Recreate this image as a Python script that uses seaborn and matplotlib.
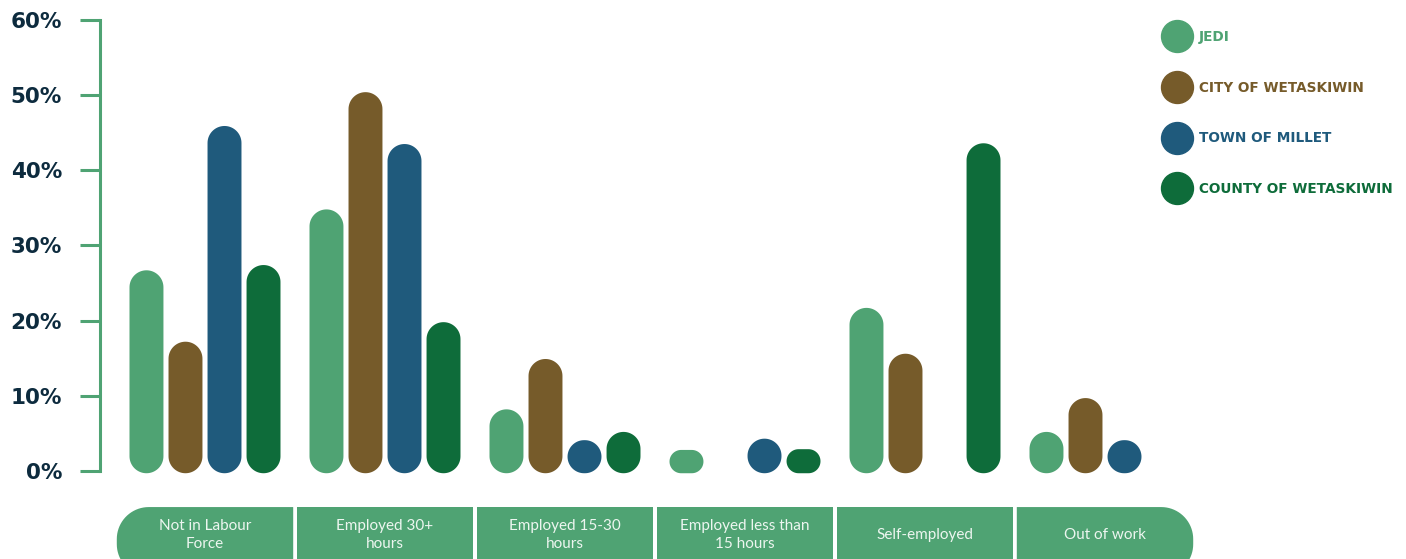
import numpy as np
import pandas as pd
import seaborn as sns
import matplotlib.pyplot as plt
from matplotlib.patches import Polygon
from matplotlib.lines import Line2D

# values (percent)
categories = ["Not in Labour\nForce", "Employed 30+\nhours", "Employed 15-30\nhours",
              "Employed less than\n15 hours", "Self-employed", "Out of work"]
groups = ["JEDI", "CITY OF WETASKIWIN", "TOWN OF MILLET", "COUNTY OF WETASKIWIN"]
jedi = [26.7, 34.8, 8.2, 2.8, 21.7, 5.2]
city = [17.2, 50.4, 14.9, 0, 15.6, 9.7]
millet = [45.9, 43.5, 4.1, 4.3, 0, 4.1]
county = [27.4, 19.8, 5.2, 2.9, 43.6, 0]
yticks = [0, 10, 20, 30, 40, 50, 60]

colors = ["#4fa373", "#765b2a", "#1f5a7c", "#0e6c3a"]
green = "#4fa373"
navy = "#0d2b3e"

rows = []
for g, vals in zip(groups, [jedi, city, millet, county]):
    for c, v in zip(categories, vals):
        rows.append({"category": c, "group": g, "value": v})
df = pd.DataFrame(rows)

sns.set_style("white")
plt.rcParams["font.family"] = ["DejaVu Sans"]

fig = plt.figure(figsize=(14.06, 5.59), dpi=100)
ax = fig.add_axes([100 / 1406, 0, 1110 / 1406, 539 / 559])

sns.barplot(data=df, x="category", y="value", hue="group", hue_order=groups,
            palette=colors, saturation=1, width=0.867, gap=0.13, legend=False, ax=ax)

ax.set_xlim(-0.5833, 5.5833)
ax.set_ylim(-11.71, 60)

# pixels per data unit, used to keep the rounded corners circular
p0 = ax.transData.transform((0, 0))
p1 = ax.transData.transform((1, 1))
px_x = p1[0] - p0[0]
px_y = p1[1] - p0[1]


def rounded_rect(x0, y0, w, h, r_px, corners=(1, 1, 1, 1)):
    # corners: bottom-left, bottom-right, top-right, top-left
    rx, ry = r_px / px_x, r_px / px_y
    x1, y1 = x0 + w, y0 + h
    spec = [((x0 + rx, y0 + ry), 180, 270, (x0, y0)),
            ((x1 - rx, y0 + ry), 270, 360, (x1, y0)),
            ((x1 - rx, y1 - ry), 0, 90, (x1, y1)),
            ((x0 + rx, y1 - ry), 90, 180, (x0, y1))]
    pts = []
    for on, (c, a0, a1, sq) in zip(corners, spec):
        if on:
            t = np.radians(np.linspace(a0, a1, 20))
            pts += list(zip(c[0] + rx * np.cos(t), c[1] + ry * np.sin(t)))
        else:
            pts.append(sq)
    return pts


# replace plain bars with pill-shaped ones
base = -0.3
for p in list(ax.patches):
    x, w, h = p.get_x(), p.get_width(), p.get_height()
    fc = p.get_facecolor()
    p.remove()
    if h <= 0:
        continue
    hh = h - base
    r = min(w * px_x / 2, hh * px_y / 2)
    ax.add_patch(Polygon(rounded_rect(x, base, w, hh, r), closed=True,
                         facecolor=fc, edgecolor="none"))

# category label boxes
box_top, box_bot = -4.8, -14
for i, cat in enumerate(categories):
    left, right = i - 0.49, i + 0.49
    if i == 0:
        corners = (1, 0, 0, 1)
    elif i == len(categories) - 1:
        corners = (0, 1, 1, 0)
    else:
        corners = (0, 0, 0, 0)
    ax.add_patch(Polygon(rounded_rect(left, box_bot, right - left, box_top - box_bot, 32, corners),
                         closed=True, facecolor=green, edgecolor="none"))
    ax.text(i, -8.5, cat, ha="center", va="center", color="#edf6f0",
            fontsize=11, family=["Lato", "DejaVu Sans"], fontweight="normal",
            linespacing=1.3)

# axes styling
for s in ["top", "right", "bottom"]:
    ax.spines[s].set_visible(False)
ax.spines["left"].set_color(green)
ax.spines["left"].set_linewidth(2.2)
ax.spines["left"].set_bounds(0, 60)
ax.set_xticks([])
ax.set_yticks(yticks)
ax.set_yticklabels([f"{t}%" for t in yticks])
ax.tick_params(axis="y", left=True, direction="out", length=14.4, width=2.2, color=green,
               pad=13, labelsize=15.5, labelcolor=navy)
for lbl in ax.get_yticklabels():
    lbl.set_fontweight("bold")
ax.set_xlabel("")
ax.set_ylabel("")

handles = [Line2D([], [], marker="o", linestyle="", markersize=23,
                  markerfacecolor=c, markeredgecolor=c) for c in colors]
ax.legend(handles, groups, loc="upper left", bbox_to_anchor=(1166 / 1406, 1 - 30 / 559),
          bbox_transform=fig.transFigure, frameon=False, labelcolor=colors,
          prop={"weight": "bold", "size": 9.8}, handlelength=1.6, handletextpad=0.8,
          labelspacing=2.7, borderpad=0, borderaxespad=0)

fig.savefig("out.png", dpi=100)
